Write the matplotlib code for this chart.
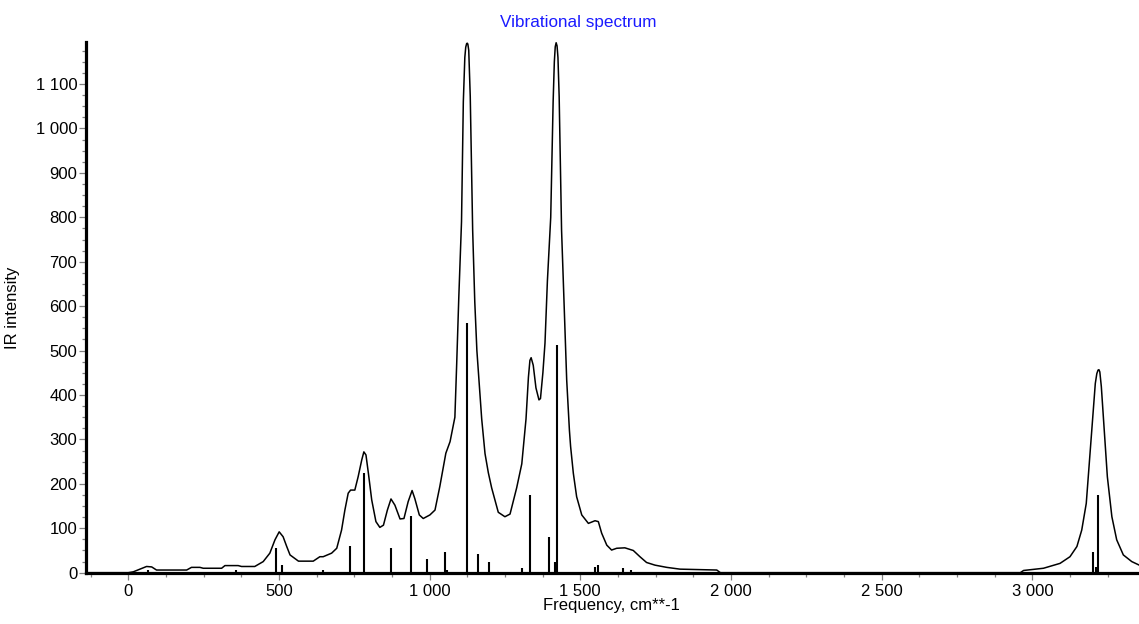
import matplotlib
matplotlib.use("Agg")
import matplotlib.pyplot as plt
from matplotlib.ticker import MultipleLocator, FuncFormatter

# ---- data ----
env_freq = [-140, 0, 17, 39, 61, 78, 94, 194, 210, 238, 249, 310, 321, 365, 376, 420,
            448, 470, 487, 501, 514, 526, 537, 565, 614, 636, 647, 675, 692, 708, 719,
            730, 738, 752, 763, 775, 782, 789, 797, 808, 822, 835, 847, 860, 872, 885,
            902, 915, 929, 942, 951, 966, 979, 1001, 1018, 1034, 1054, 1068, 1084, 1090,
            1097, 1106, 1112, 1117, 1120, 1123, 1125, 1127, 1130, 1135, 1143, 1150, 1157,
            1165, 1173, 1184, 1195, 1206, 1228, 1250, 1267, 1289, 1306, 1320, 1328, 1333,
            1337, 1344, 1353, 1363, 1368, 1376, 1383, 1391, 1402, 1410, 1414, 1417, 1420,
            1423, 1426, 1430, 1438, 1445, 1455, 1464, 1468, 1477, 1488, 1505, 1527, 1549,
            1560, 1571, 1588, 1604, 1621, 1648, 1676, 1698, 1720, 1748, 1787, 1831, 1953,
            1965, 2960, 2971, 3037, 3092, 3125, 3148, 3164, 3179, 3190, 3201, 3209, 3214,
            3218, 3221, 3224, 3229, 3238, 3249, 3264, 3280, 3302, 3330, 3355]
env_int = [0, 0, 2, 8, 14, 13, 6, 6, 12, 12, 10, 10, 16, 16, 14, 14,
           25, 44, 74, 92, 81, 59, 40, 26, 26, 36, 36, 44, 55, 96, 141,
           179, 186, 186, 216, 254, 272, 265, 224, 164, 115, 102, 107, 141, 166, 152,
           121, 122, 160, 185, 167, 130, 122, 130, 141, 194, 269, 295, 350, 470,
           620, 790, 1060, 1160, 1183, 1191, 1192, 1190, 1176, 1072, 771, 610, 500,
           424, 346, 268, 225, 191, 136, 126, 132, 191, 245, 346, 440, 478,
           484, 467, 416, 389, 392, 450, 517, 657, 800, 1060, 1150, 1184, 1193,
           1186, 1160, 1072, 771, 630, 434, 321, 284, 224, 171, 130, 111, 117,
           115, 89, 62, 51, 55, 56, 50, 36, 23, 17, 12, 8, 6,
           0, 0, 5, 10, 21, 36, 59, 96, 156, 254, 351, 426, 448,
           456, 457, 452, 419, 329, 216, 126, 74, 40, 25, 17]

stick_freq = [66, 357, 492, 510, 645, 735, 781, 871, 938, 991, 1051, 1058, 1124, 1160,
              1197, 1307, 1333, 1396, 1415, 1422, 1549, 1559, 1642, 1667, 3201, 3211, 3217]
stick_int = [6, 6, 56, 17, 6, 61, 225, 56, 128, 31, 47, 5, 562, 43,
             24, 10, 175, 81, 24, 513, 13, 18, 10, 6, 46, 12, 176]

title = "Vibrational spectrum"
x_label = "Frequency, cm**-1"
y_label = "IR intensity"

# ---- figure ----
W, H = 1139, 624
fig = plt.figure(figsize=(W / 100, H / 100), dpi=100)
L, R, T, B = 85.7, 1139, 42.3, 572.7
ax = fig.add_axes([L / W, 1 - B / H, (R - L) / W, (B - T) / H])

font = "Liberation Sans"
fs = 12

ax.plot(env_freq, env_int, color="black", lw=1.1, zorder=3)
ax.vlines(stick_freq, 0, stick_int, color="black", lw=1.5, zorder=4)

ax.set_xlim(-141, 3354)
ax.set_ylim(0, 1194)

for s in ["top", "right"]:
    ax.spines[s].set_visible(False)
for s in ["left", "bottom"]:
    ax.spines[s].set_linewidth(2.3)
    ax.spines[s].set_color("black")
    ax.spines[s].set_zorder(5)

ax.xaxis.set_major_locator(MultipleLocator(500))
ax.xaxis.set_minor_locator(MultipleLocator(125))
ax.yaxis.set_major_locator(MultipleLocator(100))
ax.yaxis.set_minor_locator(MultipleLocator(25))

fmt = FuncFormatter(lambda v, p: "{:,}".format(int(round(v))).replace(",", " "))
ax.xaxis.set_major_formatter(fmt)
ax.yaxis.set_major_formatter(fmt)

ax.tick_params(axis="both", which="major", direction="out", length=5, width=0.9,
               color="#808080", labelsize=fs, labelcolor="black")
ax.tick_params(axis="both", which="minor", direction="out", length=3, width=0.9,
               color="#808080")
ax.tick_params(axis="y", which="major", pad=1)
ax.tick_params(axis="x", which="major", pad=3)
for lbl in ax.get_xticklabels() + ax.get_yticklabels():
    lbl.set_fontfamily(font)

ax.set_xlabel(x_label, fontsize=fs, family=font)
ax.set_ylabel(y_label, fontsize=fs, family=font)
ax.xaxis.set_label_coords((611 - L) / (R - L), -(598 - B) / (B - T))
ax.yaxis.set_label_coords(-(L - 20) / (R - L), 0.5)

fig.text(578 / W, 1 - 22 / H, title, color="#1a1aff", fontsize=12.3, family=font,
         ha="center", va="center")

fig.savefig("out.png", dpi=100, facecolor="white")
